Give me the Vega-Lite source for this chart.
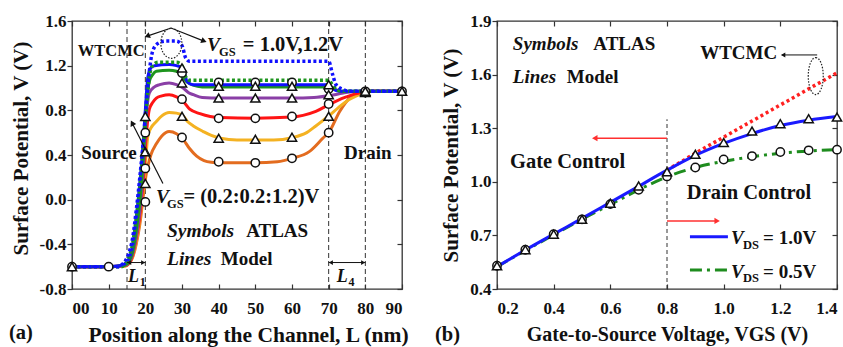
{
"$schema":"https://vega.github.io/schema/vega-lite/v6.json",
"padding":{"left":8,"top":11,"right":0,"bottom":0},
"spacing":23,
"config":{
 "font":"Liberation Serif",
 "view":{"stroke":"#333","strokeWidth":1.3},
 "axis":{"grid":false,"domain":false,"labelFont":"Liberation Serif","labelFontSize":17,"labelFontWeight":"bold","labelColor":"#111","titleFont":"Liberation Serif","titleFontSize":21,"titleFontWeight":"bold","titleColor":"#111","tickColor":"#333","tickWidth":1.2},
 "text":{"font":"Liberation Serif","fontWeight":"bold","color":"#111","align":"left","baseline":"alphabetic"}
},
"datasets":{
 "lm":[
  {"c":"0.2","L":0,"V":-0.6},{"c":"0.2","L":10,"V":-0.6},{"c":"0.2","L":14.5,"V":-0.595},{"c":"0.2","L":15.5,"V":-0.575},{"c":"0.2","L":16.5,"V":-0.52},{"c":"0.2","L":17.5,"V":-0.4},{"c":"0.2","L":18.5,"V":-0.22},{"c":"0.2","L":19.5,"V":0.05},{"c":"0.2","L":20.2,"V":0.22},{"c":"0.2","L":20.7,"V":0.3},{"c":"0.2","L":21.5,"V":0.4},{"c":"0.2","L":23,"V":0.5},{"c":"0.2","L":24.5,"V":0.57},{"c":"0.2","L":26.5,"V":0.61},{"c":"0.2","L":28.5,"V":0.59},{"c":"0.2","L":30.3,"V":0.54},{"c":"0.2","L":32,"V":0.46},{"c":"0.2","L":34,"V":0.39},{"c":"0.2","L":36,"V":0.35},{"c":"0.2","L":38,"V":0.335},{"c":"0.2","L":40.5,"V":0.33},{"c":"0.2","L":50,"V":0.33},{"c":"0.2","L":56,"V":0.34},{"c":"0.2","L":60,"V":0.37},{"c":"0.2","L":64.7,"V":0.43},{"c":"0.2","L":68.4,"V":0.55},{"c":"0.2","L":70.2,"V":0.61},{"c":"0.2","L":73,"V":0.79},{"c":"0.2","L":75.7,"V":0.91},{"c":"0.2","L":78.5,"V":0.955},{"c":"0.2","L":81,"V":0.97},{"c":"0.2","L":90,"V":0.97},
  {"c":"0.4","L":0,"V":-0.6},{"c":"0.4","L":10,"V":-0.6},{"c":"0.4","L":14.5,"V":-0.595},{"c":"0.4","L":15.5,"V":-0.57},{"c":"0.4","L":16.5,"V":-0.51},{"c":"0.4","L":17.5,"V":-0.38},{"c":"0.4","L":18.5,"V":-0.18},{"c":"0.4","L":19.5,"V":0.13},{"c":"0.4","L":20.2,"V":0.4},{"c":"0.4","L":20.7,"V":0.57},{"c":"0.4","L":21.5,"V":0.64},{"c":"0.4","L":23,"V":0.7},{"c":"0.4","L":24.5,"V":0.75},{"c":"0.4","L":26.5,"V":0.78},{"c":"0.4","L":28.5,"V":0.775},{"c":"0.4","L":30.3,"V":0.75},{"c":"0.4","L":31.5,"V":0.7},{"c":"0.4","L":33.1,"V":0.66},{"c":"0.4","L":35.8,"V":0.61},{"c":"0.4","L":38,"V":0.575},{"c":"0.4","L":40.5,"V":0.55},{"c":"0.4","L":45,"V":0.535},{"c":"0.4","L":55,"V":0.535},{"c":"0.4","L":60,"V":0.555},{"c":"0.4","L":64,"V":0.6},{"c":"0.4","L":66.5,"V":0.66},{"c":"0.4","L":70,"V":0.75},{"c":"0.4","L":72.5,"V":0.82},{"c":"0.4","L":74.8,"V":0.88},{"c":"0.4","L":77,"V":0.92},{"c":"0.4","L":79,"V":0.95},{"c":"0.4","L":82,"V":0.97},{"c":"0.4","L":90,"V":0.97},
  {"c":"0.6","L":0,"V":-0.6},{"c":"0.6","L":10,"V":-0.6},{"c":"0.6","L":14.5,"V":-0.59},{"c":"0.6","L":15.5,"V":-0.57},{"c":"0.6","L":16.5,"V":-0.5},{"c":"0.6","L":17.5,"V":-0.35},{"c":"0.6","L":18.5,"V":-0.15},{"c":"0.6","L":19.5,"V":0.2},{"c":"0.6","L":20.2,"V":0.55},{"c":"0.6","L":21.1,"V":0.81},{"c":"0.6","L":22,"V":0.87},{"c":"0.6","L":23,"V":0.91},{"c":"0.6","L":24.5,"V":0.93},{"c":"0.6","L":26.5,"V":0.94},{"c":"0.6","L":28.5,"V":0.92},{"c":"0.6","L":30.3,"V":0.88},{"c":"0.6","L":32.1,"V":0.81},{"c":"0.6","L":34.9,"V":0.77},{"c":"0.6","L":37.7,"V":0.745},{"c":"0.6","L":40.5,"V":0.735},{"c":"0.6","L":50,"V":0.73},{"c":"0.6","L":60,"V":0.74},{"c":"0.6","L":63,"V":0.755},{"c":"0.6","L":66.5,"V":0.79},{"c":"0.6","L":70,"V":0.85},{"c":"0.6","L":72.5,"V":0.89},{"c":"0.6","L":74.8,"V":0.92},{"c":"0.6","L":77,"V":0.945},{"c":"0.6","L":79,"V":0.96},{"c":"0.6","L":82,"V":0.97},{"c":"0.6","L":90,"V":0.97},
  {"c":"0.8","L":0,"V":-0.6},{"c":"0.8","L":10,"V":-0.6},{"c":"0.8","L":14.5,"V":-0.59},{"c":"0.8","L":15.5,"V":-0.565},{"c":"0.8","L":16.5,"V":-0.49},{"c":"0.8","L":17.5,"V":-0.33},{"c":"0.8","L":18.5,"V":-0.1},{"c":"0.8","L":19.5,"V":0.3},{"c":"0.8","L":20.2,"V":0.72},{"c":"0.8","L":21.1,"V":0.955},{"c":"0.8","L":22.5,"V":1.01},{"c":"0.8","L":23.9,"V":1.03},{"c":"0.8","L":26.5,"V":1.045},{"c":"0.8","L":28.5,"V":1.03},{"c":"0.8","L":30.3,"V":1.0},{"c":"0.8","L":31.7,"V":0.96},{"c":"0.8","L":33.1,"V":0.94},{"c":"0.8","L":35.5,"V":0.915},{"c":"0.8","L":40.5,"V":0.91},{"c":"0.8","L":60,"V":0.91},{"c":"0.8","L":66,"V":0.915},{"c":"0.8","L":70,"V":0.93},{"c":"0.8","L":74,"V":0.955},{"c":"0.8","L":78,"V":0.97},{"c":"0.8","L":90,"V":0.97},
  {"c":"1.0","L":0,"V":-0.6},{"c":"1.0","L":10,"V":-0.6},{"c":"1.0","L":14.5,"V":-0.585},{"c":"1.0","L":15.5,"V":-0.555},{"c":"1.0","L":16.5,"V":-0.47},{"c":"1.0","L":17.5,"V":-0.28},{"c":"1.0","L":18.5,"V":-0.02},{"c":"1.0","L":19.3,"V":0.3},{"c":"1.0","L":20,"V":0.7},{"c":"1.0","L":20.5,"V":0.93},{"c":"1.0","L":21.1,"V":1.06},{"c":"1.0","L":22,"V":1.12},{"c":"1.0","L":23,"V":1.15},{"c":"1.0","L":26.5,"V":1.16},{"c":"1.0","L":28.5,"V":1.15},{"c":"1.0","L":30.3,"V":1.09},{"c":"1.0","L":31.5,"V":1.05},{"c":"1.0","L":33,"V":1.025},{"c":"1.0","L":35.5,"V":1.01},{"c":"1.0","L":70,"V":1.01},{"c":"1.0","L":72,"V":0.985},{"c":"1.0","L":74,"V":0.97},{"c":"1.0","L":90,"V":0.97},
  {"c":"1.2","L":0,"V":-0.6},{"c":"1.2","L":10,"V":-0.6},{"c":"1.2","L":13.5,"V":-0.59},{"c":"1.2","L":14.5,"V":-0.57},{"c":"1.2","L":15.5,"V":-0.53},{"c":"1.2","L":16.5,"V":-0.42},{"c":"1.2","L":17.5,"V":-0.17},{"c":"1.2","L":18.5,"V":0.15},{"c":"1.2","L":19.1,"V":0.37},{"c":"1.2","L":19.7,"V":0.65},{"c":"1.2","L":20.2,"V":0.9},{"c":"1.2","L":20.7,"V":1.1},{"c":"1.2","L":21.5,"V":1.18},{"c":"1.2","L":22.5,"V":1.2},{"c":"1.2","L":26.5,"V":1.21},{"c":"1.2","L":28.5,"V":1.2},{"c":"1.2","L":30.3,"V":1.18},{"c":"1.2","L":30.8,"V":1.12},{"c":"1.2","L":31.2,"V":1.07},{"c":"1.2","L":32,"V":1.04},{"c":"1.2","L":33.1,"V":1.03},{"c":"1.2","L":70,"V":1.03},{"c":"1.2","L":71,"V":1.0},{"c":"1.2","L":72,"V":0.978},{"c":"1.2","L":74,"V":0.97},{"c":"1.2","L":90,"V":0.97}
 ],
 "w10":[{"L":0,"V":-0.6},{"L":13.5,"V":-0.6},{"L":14.5,"V":-0.575},{"L":15.5,"V":-0.52},{"L":16.5,"V":-0.4},{"L":17.5,"V":-0.18},{"L":18.5,"V":0.1},{"L":19.5,"V":0.5},{"L":20.5,"V":0.9},{"L":21.1,"V":1.1},{"L":22,"V":1.2},{"L":23.5,"V":1.23},{"L":28.5,"V":1.23},{"L":30,"V":1.2},{"L":31,"V":1.1},{"L":32,"V":1.07},{"L":70,"V":1.07},{"L":71,"V":1.03},{"L":72,"V":0.99},{"L":74,"V":0.97},{"L":90,"V":0.97}],
 "w12":[{"L":0,"V":-0.6},{"L":12.5,"V":-0.6},{"L":13.5,"V":-0.585},{"L":14.5,"V":-0.55},{"L":15.5,"V":-0.48},{"L":16.5,"V":-0.35},{"L":17.5,"V":-0.1},{"L":18.5,"V":0.2},{"L":19.5,"V":0.55},{"L":20.5,"V":0.95},{"L":21.1,"V":1.15},{"L":22,"V":1.33},{"L":23.5,"V":1.4},{"L":25.5,"V":1.42},{"L":28.5,"V":1.42},{"L":30,"V":1.38},{"L":31,"V":1.27},{"L":32,"V":1.24},{"L":70,"V":1.24},{"L":71,"V":1.13},{"L":72,"V":1.03},{"L":74,"V":0.985},{"L":76,"V":0.97},{"L":90,"V":0.97}],
 "lc":[{"c":"0.2","L":0,"V":-0.6},{"c":"0.2","L":10,"V":-0.6},
  {"c":"0.2","L":20,"V":-0.02},{"c":"0.2","L":30,"V":0.557},{"c":"0.2","L":40,"V":0.34},{"c":"0.2","L":50,"V":0.33},{"c":"0.2","L":60,"V":0.37},{"c":"0.2","L":70,"V":0.6},{"c":"0.2","L":80,"V":0.96},
  {"c":"0.6","L":20,"V":0.28},{"c":"0.6","L":30,"V":0.9},{"c":"0.6","L":40,"V":0.728},{"c":"0.6","L":50,"V":0.728},{"c":"0.6","L":60,"V":0.745},{"c":"0.6","L":70,"V":0.857},{"c":"0.6","L":80,"V":0.965},
  {"c":"1.0","L":20,"V":0.6},{"c":"1.0","L":30,"V":1.135},{"c":"1.0","L":40,"V":1.05},{"c":"1.0","L":50,"V":1.05},{"c":"1.0","L":60,"V":1.05},{"c":"1.0","L":70,"V":0.99},{"c":"1.0","L":80,"V":0.97},{"c":"1.0","L":90,"V":0.97}],
 "lt":[{"c":"0.4","L":0,"V":-0.6},
  {"c":"0.4","L":20,"V":0.145},{"c":"0.4","L":30,"V":0.746},{"c":"0.4","L":40,"V":0.55},{"c":"0.4","L":50,"V":0.54},{"c":"0.4","L":60,"V":0.56},{"c":"0.4","L":70,"V":0.746},{"c":"0.4","L":80,"V":0.96},
  {"c":"0.8","L":20,"V":0.43},{"c":"0.8","L":30,"V":1.045},{"c":"0.8","L":40,"V":0.91},{"c":"0.8","L":50,"V":0.91},{"c":"0.8","L":60,"V":0.91},{"c":"0.8","L":70,"V":0.94},{"c":"0.8","L":80,"V":0.965},
  {"c":"1.2","L":20,"V":0.745},{"c":"1.2","L":30,"V":1.18},{"c":"1.2","L":40,"V":1.015},{"c":"1.2","L":50,"V":1.015},{"c":"1.2","L":60,"V":1.015},{"c":"1.2","L":70,"V":1.03},{"c":"1.2","L":80,"V":0.97},{"c":"1.2","L":90,"V":0.97}],
 "r10":[{"g":0.2,"v":0.525},{"g":0.3,"v":0.618},{"g":0.4,"v":0.707},{"g":0.5,"v":0.795},{"g":0.6,"v":0.885},{"g":0.7,"v":0.975},{"g":0.8,"v":1.065},{"g":0.9,"v":1.148},{"g":1.0,"v":1.215},{"g":1.1,"v":1.27},{"g":1.2,"v":1.315},{"g":1.3,"v":1.345},{"g":1.4,"v":1.365}],
 "r05":[{"g":0.2,"v":0.525},{"g":0.3,"v":0.615},{"g":0.4,"v":0.703},{"g":0.5,"v":0.79},{"g":0.6,"v":0.873},{"g":0.7,"v":0.955},{"g":0.8,"v":1.028},{"g":0.9,"v":1.08},{"g":1.0,"v":1.115},{"g":1.1,"v":1.14},{"g":1.2,"v":1.16},{"g":1.3,"v":1.172},{"g":1.4,"v":1.18}],
 "rw":[{"g":0.8,"v":1.065},{"g":0.9,"v":1.16},{"g":1.0,"v":1.25},{"g":1.1,"v":1.34},{"g":1.2,"v":1.43},{"g":1.3,"v":1.52},{"g":1.4,"v":1.61}],
 "rc":[{"g":0.2,"v":0.53},{"g":0.3,"v":0.62},{"g":0.4,"v":0.707},{"g":0.5,"v":0.79},{"g":0.6,"v":0.875},{"g":0.7,"v":0.955},{"g":0.8,"v":1.03},{"g":0.9,"v":1.08},{"g":1.0,"v":1.125},{"g":1.1,"v":1.144},{"g":1.2,"v":1.167},{"g":1.3,"v":1.176},{"g":1.4,"v":1.18}],
 "rt":[{"g":0.2,"v":0.53},{"g":0.3,"v":0.62},{"g":0.4,"v":0.707},{"g":0.5,"v":0.79},{"g":0.6,"v":0.88},{"g":0.7,"v":0.977},{"g":0.8,"v":1.056},{"g":0.9,"v":1.154},{"g":1.0,"v":1.22},{"g":1.1,"v":1.284},{"g":1.2,"v":1.325},{"g":1.3,"v":1.353},{"g":1.4,"v":1.362}]
},
"hconcat":[
{
 "width":330,"height":268,
 "resolve":{"axis":{"x":"independent","y":"independent"}},
 "layer":[
  {"data":{"values":[{"x":15},{"x":20},{"x":70},{"x":80}]},
   "mark":{"type":"rule","color":"#333","strokeDash":[5,3],"strokeWidth":1},
   "encoding":{"x":{"field":"x","type":"quantitative","scale":{"domain":[0,90],"nice":false},"axis":null}}},
  {"data":{"name":"lm"},
   "mark":{"type":"line","interpolate":"monotone","strokeWidth":3},
   "encoding":{
    "x":{"field":"L","type":"quantitative","scale":{"domain":[0,90],"nice":false},
     "axis":{"orient":"bottom","values":[0,10,20,30,40,50,60,70,80,90],"labelExpr":"datum.value===0?'00':datum.label","tickSize":-5,"labelPadding":16,"title":"Position along the Channel, L (nm)","titleFontSize":21.5,"titlePadding":8,"titleX":176}},
    "y":{"field":"V","type":"quantitative","scale":{"domain":[-0.8,1.6],"nice":false},
     "axis":{"orient":"left","values":[-0.8,-0.4,0,0.4,0.8,1.2,1.6],"labelExpr":"replace(format(datum.value,'.1f'),'\u2212','-')","tickSize":5,"labelPadding":1,"title":"Surface Potential, V (V)","titlePadding":8,"titleY":127}},
    "color":{"field":"c","type":"nominal","scale":{"domain":["0.2","0.4","0.6","0.8","1.0","1.2"],"range":["#E36C1F","#F4B222","#FF1414","#8A3FA6","#1E951E","#1010FF"]},"legend":null}}},
  {"data":{"name":"w10"},
   "mark":{"type":"line","interpolate":"monotone","strokeWidth":3.5,"strokeDash":[3,2.5],"color":"#1E951E"},
   "encoding":{"x":{"field":"L","type":"quantitative","axis":null},"y":{"field":"V","type":"quantitative","axis":null}}},
  {"data":{"name":"w12"},
   "mark":{"type":"line","interpolate":"monotone","strokeWidth":3.5,"strokeDash":[3,2.5],"color":"#1010FF"},
   "encoding":{"x":{"field":"L","type":"quantitative","axis":null},"y":{"field":"V","type":"quantitative","axis":null}}},
  {"data":{"name":"lc"},
   "mark":{"type":"point","shape":"circle","filled":true,"fill":"white","stroke":"#111","strokeWidth":1.5,"size":70,"opacity":1},
   "encoding":{
    "x":{"field":"L","type":"quantitative","axis":{"orient":"top","values":[0,10,20,30,40,50,60,70,80,90],"labels":false,"tickSize":-5,"title":null}},
    "y":{"field":"V","type":"quantitative","axis":{"orient":"right","values":[-0.8,-0.4,0,0.4,0.8,1.2,1.6],"labels":false,"tickSize":-5,"title":null}}}},
  {"data":{"name":"lt"},
   "mark":{"type":"point","shape":"triangle-up","filled":true,"fill":"white","stroke":"#111","strokeWidth":1.5,"size":85,"opacity":1},
   "encoding":{"x":{"field":"L","type":"quantitative","axis":null},"y":{"field":"V","type":"quantitative","axis":null}}},
  {"data":{"values":[{"x":20.5,"y":1.465},{"x":27,"y":1.537},{"x":36,"y":1.42}]},
   "mark":{"type":"line","color":"#111","strokeWidth":1.2},
   "encoding":{"x":{"field":"x","type":"quantitative","axis":null},"y":{"field":"y","type":"quantitative","axis":null}}},
  {"data":{"values":[{"x":20.5,"y":1.465}]},
   "mark":{"type":"point","shape":"triangle-left","filled":true,"color":"#111","size":40,"angle":-20,"opacity":1},
   "encoding":{"x":{"field":"x","type":"quantitative","axis":null},"y":{"field":"y","type":"quantitative","axis":null}}},
  {"data":{"values":[{"x":36,"y":1.42}]},
   "mark":{"type":"point","shape":"triangle-right","filled":true,"color":"#111","size":40,"angle":21,"opacity":1},
   "encoding":{"x":{"field":"x","type":"quantitative","axis":null},"y":{"field":"y","type":"quantitative","axis":null}}},
  {"data":{"values":[{"x":27.1,"y":1.4}]},
   "mark":{"type":"point","shape":"M0,-1A0.7,1 0 1,1 0,1A0.7,1 0 1,1 0,-1Z","filled":false,"color":"#222","strokeWidth":1.2,"strokeDash":[1.5,1.5],"size":900,"opacity":1},
   "encoding":{"x":{"field":"x","type":"quantitative","axis":null},"y":{"field":"y","type":"quantitative","axis":null}}},
  {"data":{"values":[{"x":16.4,"y":0.686},{"x":24.8,"y":0.144}]},
   "mark":{"type":"line","color":"#111","strokeWidth":1.2},
   "encoding":{"x":{"field":"x","type":"quantitative","axis":null},"y":{"field":"y","type":"quantitative","axis":null}}},
  {"data":{"values":[{"x":16.4,"y":0.686}]},
   "mark":{"type":"point","shape":"triangle-up","filled":true,"color":"#111","size":40,"angle":-27,"opacity":1},
   "encoding":{"x":{"field":"x","type":"quantitative","axis":null},"y":{"field":"y","type":"quantitative","axis":null}}},
  {"data":{"values":[{"x":15,"x2":20,"y":-0.563},{"x":70,"x2":80,"y":-0.563}]},
   "mark":{"type":"rule","color":"#111","strokeWidth":1},
   "encoding":{"x":{"field":"x","type":"quantitative","axis":null},"x2":{"field":"x2"},"y":{"field":"y","type":"quantitative","axis":null}}},
  {"data":{"values":[{"x":15.6,"y":-0.563},{"x":70.6,"y":-0.563}]},
   "mark":{"type":"point","shape":"triangle-left","filled":true,"color":"#111","size":22,"opacity":1},
   "encoding":{"x":{"field":"x","type":"quantitative","axis":null},"y":{"field":"y","type":"quantitative","axis":null}}},
  {"data":{"values":[{"x":19.4,"y":-0.563},{"x":79.4,"y":-0.563}]},
   "mark":{"type":"point","shape":"triangle-right","filled":true,"color":"#111","size":22,"opacity":1},
   "encoding":{"x":{"field":"x","type":"quantitative","axis":null},"y":{"field":"y","type":"quantitative","axis":null}}},
  {"data":{"values":[{"x":1.6,"y":1.285,"t":"WTCMC"}]},
   "mark":{"type":"text","fontSize":16.5},
   "encoding":{"x":{"field":"x","type":"quantitative","axis":null},"y":{"field":"y","type":"quantitative","axis":null},"text":{"field":"t"}}},
  {"data":{"values":[{"x":2.5,"y":0.36,"t":"Source"},{"x":74.2,"y":0.36,"t":"Drain"},{"x":47.5,"y":-0.33,"t":"ATLAS"},{"x":40.6,"y":-0.587,"t":"Model"}]},
   "mark":{"type":"text","fontSize":19},
   "encoding":{"x":{"field":"x","type":"quantitative","axis":null},"y":{"field":"y","type":"quantitative","axis":null},"text":{"field":"t"}}},
  {"data":{"values":[{"x":46.6,"y":1.33,"t":"= 1.0V,1.2V"},{"x":30.4,"y":-0.033,"t":"= (0.2:0.2:1.2)V"},{"x":-17.2,"y":-1.25,"t":"(a)"}]},
   "mark":{"type":"text","fontSize":20.5},
   "encoding":{"x":{"field":"x","type":"quantitative","axis":null},"y":{"field":"y","type":"quantitative","axis":null},"text":{"field":"t"}}},
  {"data":{"values":[{"x":25.9,"y":-0.33,"t":"Symbols"},{"x":25.9,"y":-0.587,"t":"Lines"},{"x":36.8,"y":1.33,"t":"V"},{"x":22.9,"y":-0.033,"t":"V"}]},
   "mark":{"type":"text","fontSize":19.5,"fontStyle":"italic"},
   "encoding":{"x":{"field":"x","type":"quantitative","axis":null},"y":{"field":"y","type":"quantitative","axis":null},"text":{"field":"t"}}},
  {"data":{"values":[{"x":40.1,"y":1.285,"t":"GS"},{"x":25.9,"y":-0.075,"t":"GS"}]},
   "mark":{"type":"text","fontSize":12.5},
   "encoding":{"x":{"field":"x","type":"quantitative","axis":null},"y":{"field":"y","type":"quantitative","axis":null},"text":{"field":"t"}}},
  {"data":{"values":[{"x":15.3,"y":-0.74,"t":"L"},{"x":72.2,"y":-0.74,"t":"L"}]},
   "mark":{"type":"text","fontSize":18,"fontStyle":"italic"},
   "encoding":{"x":{"field":"x","type":"quantitative","axis":null},"y":{"field":"y","type":"quantitative","axis":null},"text":{"field":"t"}}},
  {"data":{"values":[{"x":18.5,"y":-0.77,"t":"1"},{"x":75.4,"y":-0.77,"t":"4"}]},
   "mark":{"type":"text","fontSize":12},
   "encoding":{"x":{"field":"x","type":"quantitative","axis":null},"y":{"field":"y","type":"quantitative","axis":null},"text":{"field":"t"}}}
 ]
},
{
 "width":340,"height":268,
 "resolve":{"axis":{"x":"independent","y":"independent"}},
 "layer":[
  {"data":{"values":[{"x":0.8,"y":0.4,"y2":1.35}]},
   "mark":{"type":"rule","color":"#333","strokeDash":[4,3],"strokeWidth":1},
   "encoding":{"x":{"field":"x","type":"quantitative","scale":{"domain":[0.2,1.4],"nice":false},"axis":null},"y":{"field":"y","type":"quantitative","scale":{"domain":[0.4,1.9],"nice":false},"axis":null},"y2":{"field":"y2"}}},
  {"data":{"name":"r05"},
   "mark":{"type":"line","interpolate":"monotone","strokeWidth":3,"strokeDash":[12,5,3,5],"color":"#1E8C1E"},
   "encoding":{
    "x":{"field":"g","type":"quantitative","scale":{"domain":[0.2,1.4],"nice":false},
     "axis":{"orient":"bottom","values":[0.2,0.4,0.6,0.8,1.0,1.2,1.4],"format":".1f","labelFlush":true,"tickSize":-5,"labelPadding":16,"title":"Gate-to-Source Voltage, VGS (V)","titleFontSize":20,"titlePadding":8}},
    "y":{"field":"v","type":"quantitative","scale":{"domain":[0.4,1.9],"nice":false},
     "axis":{"orient":"left","values":[0.4,0.7,1.0,1.3,1.6,1.9],"format":".1f","tickSize":5,"labelPadding":1,"title":"Surface Potential, V (V)","titlePadding":8}}}},
  {"data":{"name":"rw"},
   "mark":{"type":"line","strokeWidth":3.5,"strokeDash":[3,3],"color":"#FF2020"},
   "encoding":{"x":{"field":"g","type":"quantitative","axis":null},"y":{"field":"v","type":"quantitative","axis":null}}},
  {"data":{"name":"r10"},
   "mark":{"type":"line","interpolate":"monotone","strokeWidth":3,"color":"#1A1AFF"},
   "encoding":{"x":{"field":"g","type":"quantitative","axis":null},"y":{"field":"v","type":"quantitative","axis":null}}},
  {"data":{"name":"rc"},
   "mark":{"type":"point","shape":"circle","filled":true,"fill":"white","stroke":"#111","strokeWidth":1.5,"size":70,"opacity":1},
   "encoding":{
    "x":{"field":"g","type":"quantitative","axis":{"orient":"top","values":[0.2,0.4,0.6,0.8,1.0,1.2,1.4],"labels":false,"tickSize":-5,"title":null}},
    "y":{"field":"v","type":"quantitative","axis":{"orient":"right","values":[0.4,0.7,1.0,1.3,1.6,1.9],"labels":false,"tickSize":-5,"title":null}}}},
  {"data":{"name":"rt"},
   "mark":{"type":"point","shape":"triangle-up","filled":true,"fill":"white","stroke":"#111","strokeWidth":1.5,"size":85,"opacity":1},
   "encoding":{"x":{"field":"g","type":"quantitative","axis":null},"y":{"field":"v","type":"quantitative","axis":null}}},
  {"data":{"values":[{"x":1.205,"x2":1.33,"y":1.71}]},
   "mark":{"type":"rule","color":"#111","strokeWidth":1},
   "encoding":{"x":{"field":"x","type":"quantitative","axis":null},"x2":{"field":"x2"},"y":{"field":"y","type":"quantitative","axis":null}}},
  {"data":{"values":[{"x":1.21,"y":1.71}]},
   "mark":{"type":"point","shape":"triangle-left","filled":true,"color":"#111","size":25,"opacity":1},
   "encoding":{"x":{"field":"x","type":"quantitative","axis":null},"y":{"field":"y","type":"quantitative","axis":null}}},
  {"data":{"values":[{"x":1.325,"y":1.592}]},
   "mark":{"type":"point","shape":"M0,-1A0.405,1 0 1,1 0,1A0.405,1 0 1,1 0,-1Z","filled":false,"color":"#222","strokeWidth":1.2,"strokeDash":[1.5,1.5],"size":1369,"opacity":1},
   "encoding":{"x":{"field":"x","type":"quantitative","axis":null},"y":{"field":"y","type":"quantitative","axis":null}}},
  {"data":{"values":[{"x":0.545,"x2":0.8,"y":1.244},{"x":0.8,"x2":0.977,"y":0.781}]},
   "mark":{"type":"rule","color":"#FF3030","strokeWidth":1.5},
   "encoding":{"x":{"field":"x","type":"quantitative","axis":null},"x2":{"field":"x2"},"y":{"field":"y","type":"quantitative","axis":null}}},
  {"data":{"values":[{"x":0.545,"y":1.244}]},
   "mark":{"type":"point","shape":"triangle-left","filled":true,"color":"#FF3030","size":40,"opacity":1},
   "encoding":{"x":{"field":"x","type":"quantitative","axis":null},"y":{"field":"y","type":"quantitative","axis":null}}},
  {"data":{"values":[{"x":0.977,"y":0.781}]},
   "mark":{"type":"point","shape":"triangle-right","filled":true,"color":"#FF3030","size":40,"opacity":1},
   "encoding":{"x":{"field":"x","type":"quantitative","axis":null},"y":{"field":"y","type":"quantitative","axis":null}}},
  {"data":{"values":[{"x":0.881,"x2":1.015,"y":0.693}]},
   "mark":{"type":"rule","color":"#1A1AFF","strokeWidth":3},
   "encoding":{"x":{"field":"x","type":"quantitative","axis":null},"x2":{"field":"x2"},"y":{"field":"y","type":"quantitative","axis":null}}},
  {"data":{"values":[{"x":0.881,"x2":1.015,"y":0.507}]},
   "mark":{"type":"rule","color":"#1E8C1E","strokeWidth":3,"strokeDash":[12,5,3,5]},
   "encoding":{"x":{"field":"x","type":"quantitative","axis":null},"x2":{"field":"x2"},"y":{"field":"y","type":"quantitative","axis":null}}},
  {"data":{"values":[{"x":0.54,"y":1.74,"t":"ATLAS"},{"x":0.446,"y":1.555,"t":"Model"},{"x":0.917,"y":1.686,"t":"WTCMC"},{"x":1.139,"y":0.65,"t":"= 1.0V"},{"x":1.139,"y":0.464,"t":"= 0.5V"}]},
   "mark":{"type":"text","fontSize":19},
   "encoding":{"x":{"field":"x","type":"quantitative","axis":null},"y":{"field":"y","type":"quantitative","axis":null},"text":{"field":"t"}}},
  {"data":{"values":[{"x":0.246,"y":1.079,"t":"Gate Control"},{"x":0.87,"y":0.902,"t":"Drain Control"},{"x":-0.019,"y":0.109,"t":"(b)"}]},
   "mark":{"type":"text","fontSize":20.5},
   "encoding":{"x":{"field":"x","type":"quantitative","axis":null},"y":{"field":"y","type":"quantitative","axis":null},"text":{"field":"t"}}},
  {"data":{"values":[{"x":0.256,"y":1.74,"t":"Symbols"},{"x":0.256,"y":1.555,"t":"Lines"},{"x":1.026,"y":0.65,"t":"V"},{"x":1.026,"y":0.464,"t":"V"}]},
   "mark":{"type":"text","fontSize":19,"fontStyle":"italic"},
   "encoding":{"x":{"field":"x","type":"quantitative","axis":null},"y":{"field":"y","type":"quantitative","axis":null},"text":{"field":"t"}}},
  {"data":{"values":[{"x":1.068,"y":0.625,"t":"DS"},{"x":1.068,"y":0.44,"t":"DS"}]},
   "mark":{"type":"text","fontSize":12.5},
   "encoding":{"x":{"field":"x","type":"quantitative","axis":null},"y":{"field":"y","type":"quantitative","axis":null},"text":{"field":"t"}}}
 ]
}
]
}
